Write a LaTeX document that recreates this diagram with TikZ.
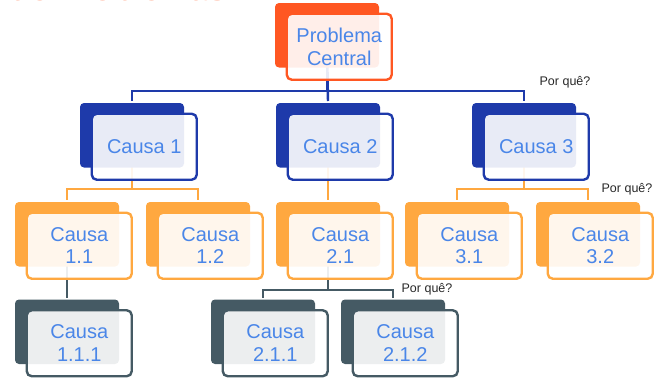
\documentclass[tikz,border=0pt]{standalone}
\usepackage{fontspec}
\setmainfont{Liberation Sans}
\pgfdeclarelayer{bg}
\pgfsetlayers{bg,main}
\definecolor{pcred}{RGB}{255,87,34}
\definecolor{navy}{RGB}{30,58,170}
\definecolor{amber}{RGB}{255,168,64}
\definecolor{slate}{RGB}{69,90,100}
\definecolor{txtblue}{RGB}{74,134,232}
\definecolor{whygray}{RGB}{40,40,40}
\definecolor{titleor}{RGB}{255,130,90}
\tikzset{
  backbox/.style={rectangle, rounded corners=4pt, minimum width=104pt, minimum height=64.5pt, inner sep=0pt, outer sep=0pt, draw=none},
  frontbox/.style={rectangle, rounded corners=5pt, minimum width=105pt, minimum height=66pt, inner sep=0pt, outer sep=0pt, fill=white, fill opacity=0.9, text opacity=1, line width=2.4pt, text=txtblue, align=center, font=\fontsize{20}{22.5}\selectfont},
  link/.style={line width=2.4pt, shorten >=2pt},
  why/.style={text=whygray, font=\fontsize{12.5}{14}\selectfont, inner sep=0pt}
}
\newcommand\cbox[5]{%
  \node[backbox, fill=#4] (#1b) at (#2+52, #3+32.25) {};
  \node[frontbox, draw=#4] (#1) at (#2+64.25, #3+43.75) {#5};
}
\begin{document}
\begin{tikzpicture}[x=1pt, y=-1pt]
\useasboundingbox (0,0) rectangle (656,380);
\clip (0,0) rectangle (656,380);

\node[anchor=base west, text=titleor, font=\bfseries\fontsize{33}{33}\selectfont, inner sep=0pt] (title) at (10,0.8) {de Problemas};

\cbox{pc}{275}{3}{pcred}{Problema\\Central}
\cbox{c1}{80}{103}{navy}{Causa 1}
\cbox{c2}{276}{103}{navy}{Causa 2}
\cbox{c3}{472}{103}{navy}{Causa 3}
\cbox{c11}{15}{202}{amber}{Causa\\1.1}
\cbox{c12}{146}{202}{amber}{Causa\\1.2}
\cbox{c21}{276}{202}{amber}{Causa\\2.1}
\cbox{c31}{405}{202}{amber}{Causa\\3.1}
\cbox{c32}{536}{202}{amber}{Causa\\3.2}
\cbox{c111}{15}{299.5}{slate}{Causa\\1.1.1}
\cbox{c211}{211}{299.5}{slate}{Causa\\2.1.1}
\cbox{c212}{341}{299.5}{slate}{Causa\\2.1.2}

\coordinate (bus0) at (0,91);
\coordinate (bus1) at (0,189);
\coordinate (bus2) at (0,290);

\begin{pgfonlayer}{bg}
\draw[link, navy] (pcb.center) -- (pcb.center |- bus0) -| (c1b.north);
\draw[link, navy] (pcb.center) -- (c2b.north);
\draw[link, navy] (pcb.center |- bus0) -| (c3b.north);
\draw[link, amber] (c1b.center) -- (c1b.center |- bus1) -| (c11b.north);
\draw[link, amber] (c1b.center |- bus1) -| (c12b.north);
\draw[link, amber] (c2b.center) -- (c21b.north);
\draw[link, amber] (c3b.center) -- (c3b.center |- bus1) -| (c31b.north);
\draw[link, amber] (c3b.center |- bus1) -| (c32b.north);
\draw[link, slate] (c11b.center) -- (c111b.north);
\draw[link, slate] (c21b.center) -- (c21b.center |- bus2) -| (c211b.north);
\draw[link, slate] (c21b.center |- bus2) -| (c212b.north);
\end{pgfonlayer}

\node[why] (why1) at (565,82) {Por quê?};
\node[why] (why2) at (627,189) {Por quê?};
\node[why] (why3) at (427,289) {Por quê?};
\end{tikzpicture}
\end{document}
